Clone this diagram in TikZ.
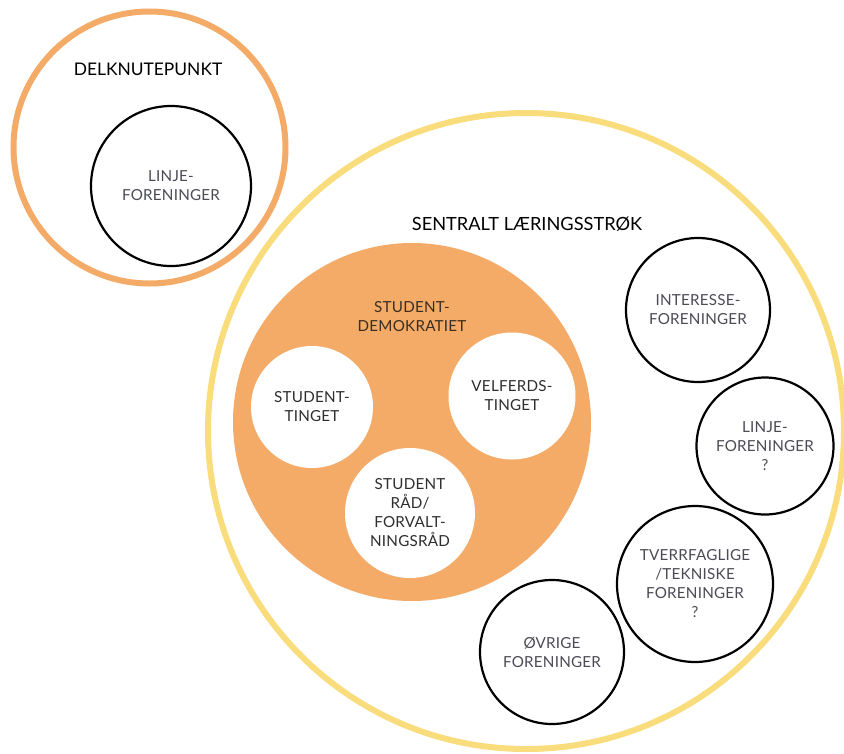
\documentclass[tikz,border=0pt]{standalone}
\usepackage{fontspec}
\setmainfont{Lato}
\newfontfamily\lblfont[LetterSpace=1.5]{Lato}
\definecolor{ringorange}{HTML}{F3AB67}
\definecolor{ringyellow}{HTML}{F9DC7B}
\definecolor{fillorange}{HTML}{F3AB67}
\definecolor{txtgray}{HTML}{4B4B55}
\definecolor{txtdark}{HTML}{2E2E2E}
\definecolor{txtbrown}{HTML}{3A2E22}
\tikzset{
  bigring/.style={circle, draw, inner sep=0pt, line width=6pt},
  blackcirc/.style={circle, draw=black, line width=2.2pt, fill=white, inner sep=0pt,
     align=center, text=txtgray, font=\lblfont\fontsize{15.2}{19}\selectfont},
  whitecirc/.style={circle, fill=white, inner sep=0pt, align=center, text=txtdark,
     font=\lblfont\fontsize{15.2}{19}\selectfont},
  title/.style={inner sep=0pt, text=black, align=center},
}
\begin{document}
\begin{tikzpicture}[x=1pt,y=-1pt]
\useasboundingbox (0,0) rectangle (844,753);
% big rings
\node[bigring, draw=ringyellow, minimum size=636pt] (central) at (526,431) {};
\node[bigring, draw=ringorange, minimum size=272pt] (delk) at (149.5,147.5) {};
% left part
\node[title, font=\fontsize{17.4}{20}\selectfont] (delktitle) at (148,69) {DELKNUTEPUNKT};
\node[blackcirc, minimum size=160pt] (linje1) at (171,186) {LINJE-\\FORENINGER};
% central part
\node[title, font=\fontsize{18.2}{20}\selectfont] (centtitle) at (527,224) {SENTRALT LÆRINGSSTRØK};
\node[circle, fill=fillorange, inner sep=0pt, minimum size=358pt] (demo) at (412,422) {};
\node[inner sep=0pt, align=center, text=txtbrown, font=\lblfont\fontsize{15.2}{19}\selectfont] (demotitle) at (412,317) {STUDENT-\\DEMOKRATIET};
\node[whitecirc, minimum size=122pt] (sting) at (312,407) {STUDENT-\\TINGET};
\node[whitecirc, minimum size=127pt] (vting) at (512,396) {VELFERDS-\\TINGET};
\node[whitecirc, minimum size=130pt] (srad) at (410,513) {STUDENT\\RÅD/\\FORVALT-\\NINGSRÅD};
% right association circles
\node[blackcirc, minimum size=144pt] (inter) at (698,310) {INTERESSE-\\FORENINGER};
\node[blackcirc, minimum size=137pt] (linje2) at (765,446) {LINJE-\\FORENINGER\\?};
\node[blackcirc, minimum size=156pt] (tverr) at (695,584) {TVERRFAGLIGE\\/TEKNISKE\\FORENINGER\\?};
\node[blackcirc, minimum size=144pt] (ovrige) at (552,652) {ØVRIGE\\FORENINGER};
\end{tikzpicture}
\end{document}
